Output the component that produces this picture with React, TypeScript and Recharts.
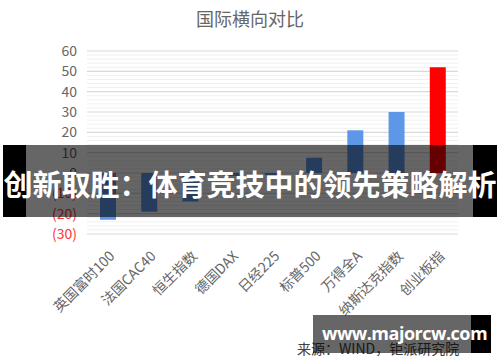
import { BarChart, Bar, XAxis, YAxis, CartesianGrid, Cell } from 'recharts';

// index names and returns (%)
const categories = ['英国富时100', '法国CAC40', '恒生指数', '德国DAX', '日经225', '标普500', '万得全A', '纳斯达克指数', '创业板指'];
const returns = [-23, -19, -14, -1.5, -1, 7.5, 21, 30, 52];
const highlighted = ['创业板指'];

// labelled ticks; the grid also has a faint line every 2
const majorTicks = [-30, -20, -10, 0, 10, 20, 30, 40, 50, 60];
const gridTicks = Array.from({ length: 46 }, (_, i) => -30 + i * 2);

const data = categories.map((name, i) => ({ name, value: returns[i] }));

const FONT = '"Noto Sans CJK SC", "Noto Sans", sans-serif';
const BLUE = '#5f97e8';
const RED = '#ff0000';

const YTick = (props: any) => {
  const { x, y, payload } = props;
  const v = payload.value;
  if (!majorTicks.includes(v)) return null;
  const neg = v < 0;
  return (
    <text x={x - 2} y={y} dy={5} textAnchor="end" fill={neg ? '#ff3333' : '#666666'} fontSize={14} fontFamily={FONT}>
      {neg ? `(${-v})` : v}
    </text>
  );
};

const XTick = (props: any) => {
  const { x, y, payload } = props;
  const tx = x + 8;
  const ty = y + 15;
  return (
    <text
      x={tx}
      y={ty}
      textAnchor="end"
      fill="#666666"
      fontSize={14}
      fontFamily={FONT}
      transform={`rotate(-45, ${tx}, ${ty})`}
    >
      {payload.value}
    </text>
  );
};

const gridLine = (props: any) => {
  const { x1, y1, x2, y2, index } = props;
  const major = index % 5 === 0;
  return (
    <line
      key={`grid-${index}`}
      x1={x1}
      y1={y1}
      x2={x2}
      y2={y2}
      stroke={major ? '#d9d9d9' : '#f0f0f0'}
      strokeWidth={major ? 1.2 : 1}
    />
  );
};

export default function App() {
  return (
    <div style={{ position: 'absolute', left: 0, top: 0, width: 500, height: 362, background: '#fff', overflow: 'hidden' }}>
      <div
        style={{
          position: 'absolute',
          top: 5,
          left: 0,
          width: 500,
          textAlign: 'center',
          fontFamily: FONT,
          fontSize: 18,
          color: '#666666',
        }}
      >
        国际横向对比
      </div>

      <BarChart width={500} height={362} data={data} margin={{ top: 51, right: 42, bottom: 48, left: 0 }}>
        <CartesianGrid vertical={false} horizontal={gridLine} />
        <XAxis dataKey="name" interval={0} tickLine={false} axisLine={false} height={80} tick={<XTick />} />
        <YAxis
          domain={[-30, 60]}
          ticks={gridTicks}
          interval={0}
          tickLine={false}
          axisLine={false}
          width={87}
          tick={<YTick />}
        />
        <Bar dataKey="value" barSize={16} isAnimationActive={false}>
          {data.map((d) => (
            <Cell key={d.name} fill={highlighted.includes(d.name) ? RED : BLUE} />
          ))}
        </Bar>
      </BarChart>

      <div
        style={{
          position: 'absolute',
          left: 297,
          top: 338,
          fontFamily: FONT,
          fontSize: 14,
          color: '#404040',
          whiteSpace: 'nowrap',
        }}
      >
        来源：WIND，钜派研究院
      </div>

      {/* banner overlay */}
      <div style={{ position: 'absolute', left: 3, top: 145, width: 23, height: 72, background: '#000' }} />
      <div style={{ position: 'absolute', left: 26, top: 145, width: 447, height: 72, background: 'rgba(0,0,0,0.6)' }} />
      <div style={{ position: 'absolute', left: 473, top: 145, width: 24, height: 72, background: '#000' }} />
      <div
        style={{
          position: 'absolute',
          left: 0,
          top: 163,
          width: 500,
          textAlign: 'center',
          fontFamily: FONT,
          fontWeight: 'bold',
          fontSize: 29,
          lineHeight: '40px',
          color: '#fff',
          whiteSpace: 'nowrap',
        }}
      >
        创新取胜：体育竞技中的领先策略解析
      </div>

      {/* watermark */}
      <div style={{ position: 'absolute', left: 313, top: 315, width: 158, height: 38, background: 'rgba(0,0,0,0.6)' }} />
      <div style={{ position: 'absolute', left: 471, top: 315, width: 20, height: 38, background: '#000' }} />
      <div
        style={{
          position: 'absolute',
          left: 322,
          top: 320,
          fontFamily: '"Open Sans", sans-serif',
          fontWeight: 'bold',
          fontSize: 18,
          letterSpacing: -0.5,
          lineHeight: '26px',
          color: '#fff',
          whiteSpace: 'nowrap',
        }}
      >
        www.majorcw.com
      </div>
    </div>
  );
}
